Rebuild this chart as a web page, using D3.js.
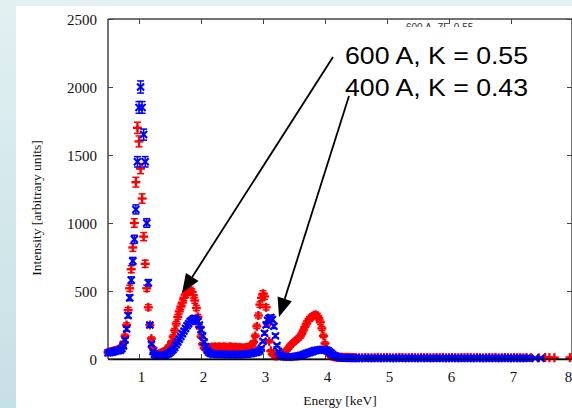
<!DOCTYPE html>
<html><head><meta charset="utf-8">
<script src="https://cdn.jsdelivr.net/npm/d3@7/dist/d3.min.js"></script>
<style>html,body{margin:0;padding:0;overflow:hidden;background:#fff}</style>
</head><body>
<svg id="c" width="572" height="408"></svg>
<script>
// ---- data ----
const xTicks = [1,2,3,4,5,6,7,8];
const yTicks = [0,500,1000,1500,2000,2500];
const labelRed = "600 A, K = 0.55";
const labelBlue = "400 A, K = 0.43";
// main grid: 0.5 .. 4.5 keV, step 0.025 (20 values per row = 0.5 keV)
const mainStart = 0.5, mainStep = 0.025;
const red600 = [50,52,55,58,60,63,68,72,80,95,120,170,250,360,520,660,820,1000,1300,1700,
1600,1400,1180,900,700,520,380,250,150,80,45,35,35,40,45,50,55,62,75,90,
100,125,165,210,260,310,350,385,415,450,475,490,500,505,495,470,430,375,310,235,
165,110,80,70,75,80,85,88,85,90,85,88,90,85,88,90,86,84,88,90,
86,84,88,85,82,85,83,80,82,85,85,88,92,100,125,170,240,320,400,450,
480,460,380,260,130,60,35,25,22,22,25,28,32,40,50,62,75,90,105,115,
125,135,145,155,165,185,210,235,260,280,295,305,315,322,325,318,300,270,225,170,
115,70,40,28,22,18,16,15,14,14,13,13,12,12,12,12,11,11,11,10,10];
const blue400 = [45,48,50,52,55,58,60,62,65,75,95,140,220,320,450,580,720,880,1100,1450,
1850,2000,1850,1650,1450,1000,560,250,110,55,35,28,25,25,25,27,28,30,35,40,
48,58,70,85,105,125,145,165,185,205,225,245,260,275,285,295,300,290,275,250,
215,170,125,90,65,50,42,38,35,36,34,35,33,34,35,33,34,32,33,34,
32,33,34,33,32,33,34,33,35,34,36,38,40,42,45,48,50,55,65,80,
130,190,250,285,300,305,290,240,170,100,55,32,22,18,16,15,15,15,16,17,
17,18,20,22,25,28,32,36,40,44,48,52,56,60,62,64,66,68,70,70,
68,65,60,52,42,32,24,18,14,11,9,8,7,7,7,6,6,6,6,6,6];
// tail grid: 4.55 .. 7.25 keV, step 0.05
const tailStart = 4.55, tailStep = 0.05;
const redTail = [10,9,11,10,9,10,12,9,10,11,10,9,10,12,11,9,10,11,10,9,
12,10,11,9,10,11,10,12,9,10,11,10,9,11,10,12,10,9,11,10,
9,10,11,10,12,9,10,11,10,9,11,10,10,9,11];
const blueTail = [6,5,6,5,6,5,5,6,5,6,5,5,6,5,6,5,5,6,5,6,
5,6,5,5,6,5,6,5,5,6,5,6,5,5,6,5,6,5,5,6,
5,6,5,5,6,5,6,5,5,6,5,6,5,5,6];
// sparse points at high energy
const redSparseE = [7.32,7.45,7.55,7.62,7.7,7.95];
const redSparseV = [10,9,11,10,9,10];
const blueSparseE = [7.3,7.39,7.48];
const blueSparseV = [6,5,6];

(function(){
function build(vals, start, step){ return vals.map((v,i)=>({e:+(start+i*step).toFixed(3), v})); }
const redData = build(red600, mainStart, mainStep)
  .concat(build(redTail, tailStart, tailStep))
  .concat(redSparseE.map((e,i)=>({e, v:redSparseV[i]})));
const blueData = build(blue400, mainStart, mainStep)
  .concat(build(blueTail, tailStart, tailStep))
  .concat(blueSparseE.map((e,i)=>({e, v:blueSparseV[i]})));

const svg = d3.select("#c");
const W = 572, H = 408;
const defs = svg.append("defs");
const g1 = defs.append("linearGradient").attr("id","bgL").attr("x1",0).attr("y1",0).attr("x2",0).attr("y2",1);
g1.append("stop").attr("offset","0%").attr("stop-color","#e2f0f2");
g1.append("stop").attr("offset","100%").attr("stop-color","#c4e1e5");
svg.append("rect").attr("width",W).attr("height",H).attr("fill","#e3f1f3");
svg.append("rect").attr("x",0).attr("y",0).attr("width",16).attr("height",H).attr("fill","url(#bgL)");
svg.append("rect").attr("x",16).attr("y",6).attr("width",W-16).attr("height",H-6).attr("fill","#ffffff");

const pL = 108, pR = 573, pT = 19, pB = 359;
const x = d3.scaleLinear().domain([0.5, 8]).range([pL, pR]);
const y = d3.scaleLinear().domain([0, 2500]).range([pB, pT]);

const axisColor = "#444";
const tickFont = "'Liberation Serif', 'DejaVu Serif', serif";

svg.append("line").attr("x1",pL).attr("x2",pR).attr("y1",pT).attr("y2",pT).attr("stroke",axisColor).attr("stroke-width",1.5);
svg.append("line").attr("x1",pL).attr("x2",pL).attr("y1",pT).attr("y2",pB).attr("stroke",axisColor).attr("stroke-width",1.5);
svg.append("line").attr("x1",pR-1).attr("x2",pR-1).attr("y1",pT).attr("y2",pB).attr("stroke",axisColor).attr("stroke-width",1.5);

const xb = svg.append("g").attr("transform",`translate(0,${pB})`)
  .call(d3.axisBottom(x).tickValues(xTicks).tickSize(-5).tickSizeOuter(0).tickPadding(0).tickFormat(d3.format("d")));
xb.select(".domain").attr("stroke","#000").attr("stroke-width",1.5);
xb.selectAll(".tick line").attr("stroke",axisColor);
xb.selectAll(".tick text").attr("font-family",tickFont).attr("font-size",15).attr("fill","#111")
  .attr("dy",0).attr("y",23).attr("dx",d => d === 8 ? -5 : 2);

const xt = svg.append("g").attr("transform",`translate(0,${pT})`)
  .call(d3.axisTop(x).tickValues(xTicks).tickSize(-5).tickSizeOuter(0).tickFormat(""));
xt.select(".domain").remove();
xt.selectAll(".tick line").attr("stroke",axisColor);

const yl = svg.append("g").attr("transform",`translate(${pL},0)`)
  .call(d3.axisLeft(y).tickValues(yTicks).tickSize(-5).tickSizeOuter(0).tickPadding(11).tickFormat(d3.format("d")));
yl.select(".domain").remove();
yl.selectAll(".tick line").attr("stroke",axisColor);
yl.selectAll(".tick text").attr("font-family",tickFont).attr("font-size",15).attr("fill","#111").attr("dy","0.35em");

const yr = svg.append("g").attr("transform",`translate(${pR-1},0)`)
  .call(d3.axisRight(y).tickValues(yTicks).tickSize(-5).tickSizeOuter(0).tickFormat(""));
yr.select(".domain").remove();
yr.selectAll(".tick line").attr("stroke",axisColor);

svg.append("text").attr("transform","translate(41,208) rotate(-90)").attr("text-anchor","middle")
  .attr("font-family",tickFont).attr("font-size",13.5).attr("fill","#111").text("Intensity [arbitrary units]");
svg.append("text").attr("x",340).attr("y",405).attr("text-anchor","middle")
  .attr("font-family",tickFont).attr("font-size",13.5).attr("fill","#111").text("Energy [keV]");

function drawSeries(data, color, marker){
  const g = svg.append("g").attr("stroke",color).attr("stroke-width",1.5).attr("fill","none");
  data.forEach(d=>{
    const cx = x(d.e), cy = y(d.v);
    const s = Math.sqrt(d.v);
    const y1 = y(d.v + s), y2 = y(Math.max(0, d.v - s));
    const cap = 3.5;
    g.append("line").attr("x1",cx).attr("x2",cx).attr("y1",y1).attr("y2",y2);
    g.append("line").attr("x1",cx-cap).attr("x2",cx+cap).attr("y1",y1).attr("y2",y1);
    g.append("line").attr("x1",cx-cap).attr("x2",cx+cap).attr("y1",y2).attr("y2",y2);
    if(marker==="plus"){
      g.append("line").attr("x1",cx-4.5).attr("x2",cx+4.5).attr("y1",cy).attr("y2",cy).attr("stroke-width",2.4);
      g.append("line").attr("x1",cx).attr("x2",cx).attr("y1",cy-4.5).attr("y2",cy+4.5).attr("stroke-width",2.4);
    } else {
      g.append("line").attr("x1",cx-3.5).attr("x2",cx+3.5).attr("y1",cy-3.5).attr("y2",cy+3.5).attr("stroke-width",2.1);
      g.append("line").attr("x1",cx-3.5).attr("x2",cx+3.5).attr("y1",cy+3.5).attr("y2",cy-3.5).attr("stroke-width",2.1);
    }
  });
}
drawSeries(redData, "#ff0000", "plus");
drawSeries(blueData, "#0000ff", "cross");

svg.append("line").attr("x1",pL).attr("x2",pR).attr("y1",pB).attr("y2",pB).attr("stroke","#000").attr("stroke-width",1);

svg.append("text").attr("x",406).attr("y",31).attr("font-family","'Liberation Sans', Arial, sans-serif")
  .attr("font-size",10).attr("fill","#333").text("600 A, ZF, 0.55");
svg.append("rect").attr("x",335).attr("y",27).attr("width",225).attr("height",78).attr("fill","#ffffff");

const annFont = "'Liberation Sans', Arial, sans-serif";
svg.append("text").attr("x",345).attr("y",64).attr("font-family",annFont).attr("font-size",24.5)
  .attr("textLength",183).attr("lengthAdjust","spacingAndGlyphs").attr("fill","#000").text(labelRed);
svg.append("text").attr("x",345).attr("y",96).attr("font-family",annFont).attr("font-size",24.5)
  .attr("textLength",183).attr("lengthAdjust","spacingAndGlyphs").attr("fill","#000").text(labelBlue);

function arrow(x0,y0,x1,y1){
  const ang = Math.atan2(y1-y0, x1-x0);
  const L = 19, Wd = 7.5;
  const bx = x1 - L*Math.cos(ang), by = y1 - L*Math.sin(ang);
  svg.append("line").attr("x1",x0).attr("y1",y0).attr("x2",bx).attr("y2",by).attr("stroke","#000").attr("stroke-width",1.8);
  const px = -Math.sin(ang)*Wd, py = Math.cos(ang)*Wd;
  svg.append("path").attr("d",`M${x1},${y1}L${bx+px},${by+py}L${bx-px},${by-py}Z`).attr("fill","#000");
}
arrow(333,57,182,293);
arrow(349,96,279,317);
})();
</script>
</body></html>
